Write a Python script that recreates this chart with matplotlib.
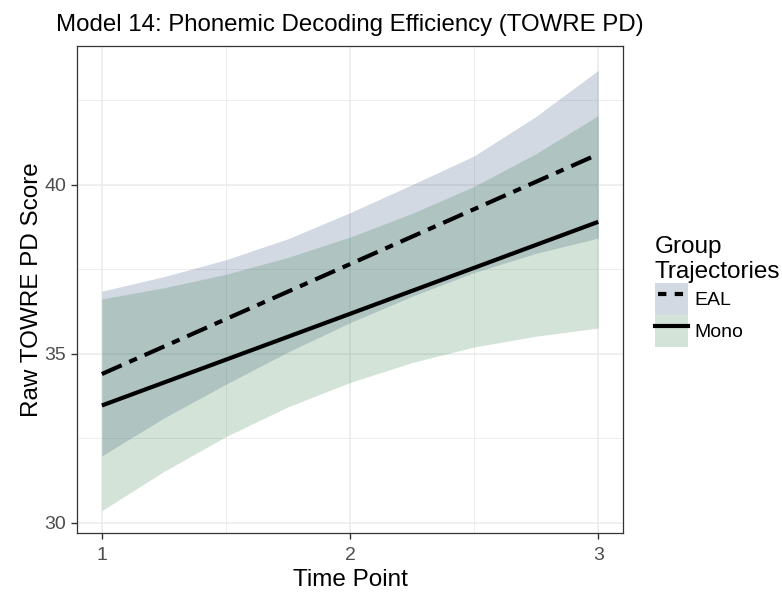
import numpy as np
import matplotlib.pyplot as plt
from matplotlib.patches import Patch
from matplotlib.lines import Line2D
from matplotlib.legend_handler import HandlerTuple

plt.rcParams['font.family'] = ['Liberation Sans', 'DejaVu Sans']

# predicted trajectories (fitted values at each time point)
time_fit = [1, 2, 3]
eal_fit = [34.40, 37.65, 40.90]
mono_fit = [33.47, 36.18, 38.90]

# confidence bands
time_band = [1, 1.25, 1.5, 1.75, 2, 2.25, 2.5, 2.75, 3]
eal_upper = [36.85, 37.28, 37.78, 38.40, 39.17, 40.00, 40.85, 42.02, 43.38]
eal_lower = [31.98, 33.10, 34.10, 35.05, 35.92, 36.70, 37.40, 37.97, 38.42]
mono_upper = [36.62, 36.95, 37.35, 37.85, 38.45, 39.15, 39.95, 40.92, 42.04]
mono_lower = [30.36, 31.52, 32.55, 33.43, 34.15, 34.74, 35.20, 35.52, 35.76]

groups = ['EAL', 'Mono']
fill_cols = ['#1e4173', '#23733c']
dotdash = (0, (5.2, 2.0, 2.0, 2.0))

fig = plt.figure(figsize=(7.82, 5.92), dpi=100)
ax = fig.add_axes([0.0985, 0.0997, 0.6982, 0.8226])

ax.fill_between(time_band, eal_lower, eal_upper, color=fill_cols[0], alpha=0.2, lw=0)
ax.fill_between(time_band, mono_lower, mono_upper, color=fill_cols[1], alpha=0.2, lw=0)
ax.plot(time_fit, eal_fit, color='black', lw=3, linestyle=dotdash, dash_capstyle='butt')
ax.plot(time_fit, mono_fit, color='black', lw=3, solid_capstyle='butt')

ax.set_xlim(0.9, 3.1)
ax.set_ylim(29.7, 44.1)
ax.set_xticks([1, 2, 3])
ax.set_yticks([30, 35, 40])
ax.set_xticks([1.5, 2.5], minor=True)
ax.set_yticks([32.5, 37.5, 42.5], minor=True)
ax.grid(which='major', color='#ebebeb', lw=1.1)
ax.grid(which='minor', color='#ebebeb', lw=0.6)
ax.set_axisbelow(True)
ax.tick_params(which='minor', length=0)
ax.tick_params(which='major', length=4, width=1, color='#333333',
               labelsize=14, labelcolor='#4d4d4d')
ax.tick_params(axis='x', pad=6)
ax.tick_params(axis='y', pad=4)
for s in ax.spines.values():
    s.set_color('#333333')
    s.set_linewidth(0.9)

ax.set_xlabel('Time Point', fontsize=17.5, labelpad=4)
ax.set_ylabel('Raw TOWRE PD Score', fontsize=17.5, labelpad=1)
ax.set_title('Model 14: Phonemic Decoding Efficiency (TOWRE PD)', fontsize=17.3, pad=11)

handles = [
    (Patch(facecolor=fill_cols[0], alpha=0.2, lw=0),
     Line2D([], [], color='black', lw=3, linestyle=(3.27, (2, 2)))),
    (Patch(facecolor=fill_cols[1], alpha=0.2, lw=0),
     Line2D([], [], color='black', lw=3)),
]
leg = fig.legend(handles, groups, title='Group\nTrajectories',
                 handler_map={tuple: HandlerTuple(ndivide=1, pad=0)},
                 loc='upper left', bbox_to_anchor=(0.837, 0.602),
                 frameon=False, fontsize=14, title_fontsize=17.5,
                 handlelength=1.7, handleheight=2.15, handletextpad=0.35,
                 labelspacing=0.0, borderpad=0, borderaxespad=0)
leg._legend_box.align = 'left'

fig.savefig('out.png', dpi=100)
